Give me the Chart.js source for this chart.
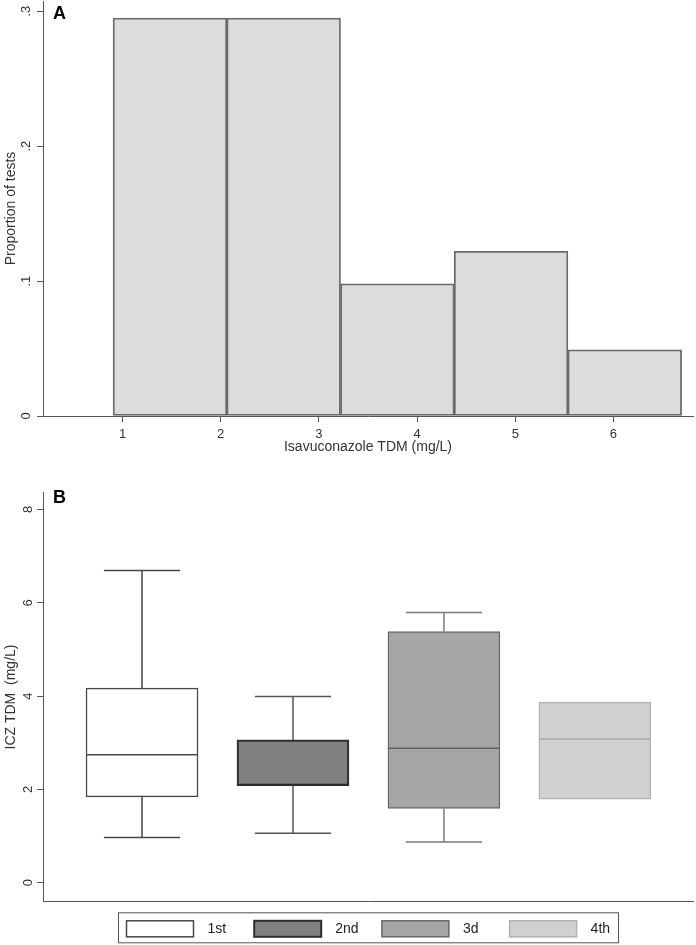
<!DOCTYPE html>
<html>
<head>
<meta charset="utf-8">
<script src="https://cdn.jsdelivr.net/npm/chart.js@4/dist/chart.umd.min.js"></script>
<style>
body { margin: 0; background: #fff; }
#wrapA { position: relative; width: 696px; height: 456px; }
#wrapB { position: relative; width: 696px; height: 489px; }
</style>
</head>
<body>
<div id="wrapA"><canvas id="histChart"></canvas></div>
<div id="wrapB"><canvas id="boxChart"></canvas></div>
<script>
// panel A: histogram of TDM values
var binCenters = [1.483, 2.641, 3.799, 4.957, 6.115];
var proportions = [0.295, 0.295, 0.098, 0.122, 0.049];
var histXTicks = [1, 2, 3, 4, 5, 6];
var histYTicks = [0, 0.1, 0.2, 0.3];

// panel B: box plots per test
var groups = ['1st', '2nd', '3d', '4th'];
var boxMin = [0.97, 1.06, 0.87, 1.79];
var boxQ1 = [1.84, 2.08, 1.59, 1.79];
var boxMedian = [2.74, 2.10, 2.88, 3.08];
var boxQ3 = [4.17, 3.06, 5.38, 3.87];
var boxMax = [6.69, 3.99, 5.79, 3.87];
var boxYTicks = [0, 2, 4, 6, 8];

var boxFill = ['#ffffff', '#808080', '#a6a6a6', '#d0d0d0'];
var boxLine = ['#474747', '#2e2e2e', '#6a6a6a', '#b2b2b2'];
var whiskerLine = ['#474747', '#555555', '#7a7a7a', '#b2b2b2'];
var medianLine = ['#474747', '#2a2a2a', '#616161', '#a8a8a8'];

Chart.defaults.font.family = "'Liberation Sans', Arial, sans-serif";
Chart.defaults.color = '#333';

var axisGrey = '#555';

function fixedTicks(list) {
    return function(scale) {
        scale.ticks = list.map(function(v) { return {value: v}; });
    };
}

function noPadding(s) {
    s.paddingTop = 0; s.paddingBottom = 0; s.paddingLeft = 0; s.paddingRight = 0;
}

function stataNum(v) {
    return v === 0 ? '0' : String(v).replace(/^0\./, '.');
}

var panelLetter = {
    id: 'panelLetter',
    afterDraw: function(chart, args, opts) {
        var ctx = chart.ctx;
        ctx.save();
        ctx.fillStyle = '#000';
        ctx.font = "bold 18px 'Liberation Sans', Arial, sans-serif";
        ctx.textBaseline = 'alphabetic';
        ctx.fillText(opts.text, chart.chartArea.left + 10, chart.chartArea.top + opts.dy);
        ctx.restore();
    }
};

var yAxisCommon = {
    afterFit: function(s) { s.width = 43; noPadding(s); },
    ticks: { minRotation: 90, maxRotation: 90, crossAlign: 'center', padding: 5, autoSkip: false,
             font: { size: 13 }, color: '#333' },
    grid: { display: true, drawOnChartArea: false, drawTicks: true, tickLength: 6, color: axisGrey },
    border: { display: true, color: axisGrey, width: 1 }
};

new Chart(document.getElementById('histChart'), {
    type: 'bar',
    data: {
        datasets: [{
            data: binCenters.map(function(c, i) { return {x: c, y: proportions[i]}; }),
            backgroundColor: '#dcdcdc',
            borderColor: '#6a6a6a',
            borderWidth: 1.8,
            borderSkipped: false,
            barThickness: 'flex',
            barPercentage: 1,
            categoryPercentage: 1
        }]
    },
    options: {
        responsive: true,
        maintainAspectRatio: false,
        animation: false,
        layout: { padding: { top: 1, right: 3, left: 0, bottom: 0 } },
        plugins: { legend: { display: false }, tooltip: { enabled: false },
                   panelLetter: { text: 'A', dy: 18 } },
        scales: {
            x: {
                type: 'linear', min: 0.19, max: 6.81, offset: false,
                afterBuildTicks: fixedTicks(histXTicks),
                afterFit: function(s) { s.height = 40; noPadding(s); },
                ticks: { padding: 5, font: { size: 13 }, color: '#333', autoSkip: false, maxRotation: 0 },
                grid: { display: true, offset: false, drawOnChartArea: false, drawTicks: true, tickLength: 6, color: axisGrey },
                border: { display: true, color: axisGrey, width: 1 },
                title: { display: true, text: 'Isavuconazole TDM (mg/L)', font: { size: 14 }, color: '#333', padding: 0 }
            },
            y: Object.assign({}, yAxisCommon, {
                min: 0, max: 0.3076,
                afterBuildTicks: fixedTicks(histYTicks),
                ticks: Object.assign({}, yAxisCommon.ticks, { callback: function(v) { return stataNum(v); } }),
                title: { display: true, text: 'Proportion of tests', font: { size: 14 }, color: '#333', padding: { top: 3, bottom: 0 } }
            })
        }
    },
    plugins: [panelLetter]
});

// whiskers and medians drawn over the floating bars
var boxWhiskers = {
    id: 'boxWhiskers',
    afterDatasetsDraw: function(chart) {
        var ctx = chart.ctx, y = chart.scales.y;
        chart.getDatasetMeta(0).data.forEach(function(bar, i) {
            var half = bar.width / 2, cap = bar.width * 0.34;
            var pMed = y.getPixelForValue(boxMedian[i]);
            ctx.save();
            ctx.lineWidth = 1.5;
            ctx.strokeStyle = medianLine[i];
            ctx.beginPath();
            ctx.moveTo(bar.x - half, pMed);
            ctx.lineTo(bar.x + half, pMed);
            ctx.stroke();
            ctx.strokeStyle = whiskerLine[i];
            [[boxQ3[i], boxMax[i]], [boxQ1[i], boxMin[i]]].forEach(function(w) {
                if (w[0] === w[1]) return;
                var p0 = y.getPixelForValue(w[0]), p1 = y.getPixelForValue(w[1]);
                ctx.beginPath();
                ctx.moveTo(bar.x, p0);
                ctx.lineTo(bar.x, p1);
                ctx.moveTo(bar.x - cap, p1);
                ctx.lineTo(bar.x + cap, p1);
                ctx.stroke();
            });
            ctx.restore();
        });
    }
};

var boxLegend = {
    id: 'boxLegend',
    afterDraw: function(chart) {
        var ctx = chart.ctx, area = chart.chartArea;
        var left = area.left + 75, top = area.bottom + 11;
        ctx.save();
        ctx.strokeStyle = axisGrey;
        ctx.lineWidth = 1;
        ctx.strokeRect(left + 0.5, top + 0.5, 500, 30);
        ctx.font = "14px 'Liberation Sans', Arial, sans-serif";
        ctx.textBaseline = 'middle';
        groups.forEach(function(g, i) {
            var sx = left + 8.5 + i * 127.7;
            ctx.fillStyle = boxFill[i];
            ctx.fillRect(sx, top + 8.5, 67, 16);
            ctx.strokeStyle = boxLine[i];
            ctx.lineWidth = i === 1 ? 2 : 1.5;
            ctx.strokeRect(sx, top + 8.5, 67, 16);
            ctx.fillStyle = '#222';
            ctx.fillText(g, sx + 81, top + 16.5);
        });
        ctx.restore();
    }
};

new Chart(document.getElementById('boxChart'), {
    type: 'bar',
    data: {
        datasets: [{
            data: groups.map(function(g, i) { return {x: i + 1, y: [boxQ1[i], boxQ3[i]]}; }),
            backgroundColor: boxFill,
            borderColor: boxLine,
            borderWidth: [1.5, 2.2, 1.5, 1.5],
            borderSkipped: false,
            barThickness: 'flex',
            barPercentage: 0.742,
            categoryPercentage: 1
        }]
    },
    options: {
        responsive: true,
        maintainAspectRatio: false,
        animation: false,
        layout: { padding: { top: 36.7, right: 3, left: 0, bottom: 43.7 } },
        plugins: { legend: { display: false }, tooltip: { enabled: false },
                   panelLetter: { text: 'B', dy: 10 } },
        scales: {
            x: {
                type: 'linear', min: 0.344, max: 4.65, offset: false,
                afterFit: function(s) { s.height = 0; noPadding(s); },
                ticks: { display: false },
                grid: { display: false, offset: false },
                border: { display: true, color: axisGrey, width: 1 }
            },
            y: Object.assign({}, yAxisCommon, {
                min: -0.4, max: 8.36,
                afterBuildTicks: fixedTicks(boxYTicks),
                title: { display: true, text: 'ICZ TDM  (mg/L)', font: { size: 14 }, color: '#333', padding: { top: 3, bottom: 0 } }
            })
        }
    },
    plugins: [boxWhiskers, boxLegend, panelLetter]
});
</script>
</body>
</html>
